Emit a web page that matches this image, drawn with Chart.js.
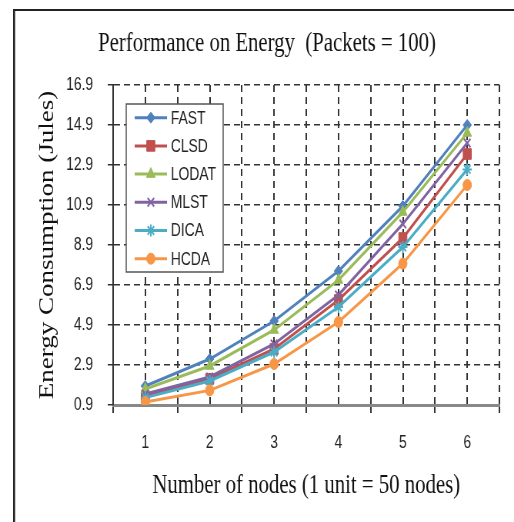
<!DOCTYPE html>
<html>
<head>
<meta charset="utf-8">
<title>Performance on Energy</title>
<script src="https://cdn.jsdelivr.net/npm/chart.js@4.4.1/dist/chart.umd.min.js"></script>
<style>
    html, body { margin: 0; padding: 0; background: #fff; overflow: hidden; }
    /* the original figure is squeezed horizontally, so draw wide and squeeze */
    #energyChart { display: block; transform: scaleX(0.7695); transform-origin: 0 0; }
</style>
</head>
<body>
<canvas id="energyChart" width="668" height="522"></canvas>
<script>
// Data
const nodeUnits = [1, 2, 3, 4, 5, 6];
const fastValues  = [1.85, 3.2, 5.1, 7.6, 10.85, 14.9];
const clsdValues  = [1.35, 2.2, 3.7, 6.15, 9.25, 13.45];
const lodatValues = [1.7, 2.85, 4.65, 7.15, 10.55, 14.5];
const mlstValues  = [1.45, 2.3, 3.95, 6.4, 9.95, 14.0];
const dicaValues  = [1.27, 2.1, 3.55, 5.8, 8.8, 12.68];
const hcdaValues  = [1.05, 1.63, 2.95, 5.05, 7.97, 11.9];

const yMin = 0.9;
const yMax = 16.9;
const yStep = 2;

const narrowFont = '"Liberation Sans Narrow", "Arial Narrow", "Liberation Sans", sans-serif';
const serifFont = '"Liberation Serif", "Times New Roman", serif';

function makeSeries(label, values, color, pointStyle, radius, order) {
    return {
        label: label,
        data: nodeUnits.map(function(n, i) { return { x: n, y: values[i] }; }),
        borderColor: color,
        backgroundColor: color,
        pointBackgroundColor: color,
        pointBorderColor: color,
        pointStyle: pointStyle,
        pointRadius: radius,
        pointBorderWidth: (pointStyle === 'crossRot' || pointStyle === 'star') ? 2 : 1,
        borderWidth: 3,
        tension: 0,
        order: order
    };
}

// Title, outer frame and the legend box inside the plot
const figureDecor = {
    id: 'figureDecor',
    beforeDraw: function(chart) {
        const ctx = chart.ctx;
        ctx.save();
        ctx.fillStyle = '#222';
        ctx.fillRect(17, 9, 2.6, chart.height);
        ctx.fillRect(17, 9, chart.width, 2);
        ctx.font = '27px ' + serifFont;
        ctx.fillStyle = '#111';
        ctx.textAlign = 'center';
        ctx.textBaseline = 'alphabetic';
        ctx.fillText('Performance on Energy  (Packets = 100)', 347, 51);
        ctx.restore();
    },
    afterDraw: function(chart) {
        const ctx = chart.ctx;
        const boxLeft = 164, boxTop = 104, boxW = 126, boxH = 168;
        ctx.save();
        ctx.fillStyle = '#fff';
        ctx.fillRect(boxLeft, boxTop, boxW, boxH);
        ctx.strokeStyle = '#555';
        ctx.lineWidth = 1.5;
        ctx.strokeRect(boxLeft, boxTop, boxW, boxH);

        chart.data.datasets.forEach(function(ds, i) {
            const y = 117.7 + i * 28.2;
            ctx.strokeStyle = ds.borderColor;
            ctx.lineWidth = 3;
            ctx.beginPath();
            ctx.moveTo(175, y);
            ctx.lineTo(217, y);
            ctx.stroke();

            ctx.fillStyle = ds.pointBackgroundColor;
            ctx.strokeStyle = ds.pointBorderColor;
            ctx.lineWidth = ds.pointBorderWidth;
            Chart.helpers.drawPoint(ctx, {
                pointStyle: ds.pointStyle,
                radius: ds.pointRadius,
                rotation: 0,
                borderWidth: ds.pointBorderWidth
            }, 196, y);

            ctx.fillStyle = '#222';
            ctx.font = '18px ' + narrowFont;
            ctx.textAlign = 'left';
            ctx.textBaseline = 'middle';
            ctx.fillText(ds.label, 222, y + 1);
        });
        ctx.restore();
    }
};

const energyCtx = document.getElementById('energyChart');
energyCtx.chart = new Chart(energyCtx.getContext('2d'), {
    type: 'line',
    data: {
        datasets: [
            makeSeries('FAST', fastValues, '#4f81bd', 'rectRot', 5.5, 6),
            makeSeries('CLSD', clsdValues, '#c0504d', 'rect', 7.5, 5),
            makeSeries('LODAT', lodatValues, '#9bbb59', 'triangle', 6.5, 4),
            makeSeries('MLST', mlstValues, '#8064a2', 'crossRot', 6, 3),
            makeSeries('DICA', dicaValues, '#4bacc6', 'star', 6, 2),
            makeSeries('HCDA', hcdaValues, '#f79646', 'circle', 5.5, 1)
        ]
    },
    options: {
        responsive: false,
        animation: false,
        devicePixelRatio: 1,
        layout: {
            padding: { left: 0, right: 15, top: 85, bottom: 0 }
        },
        plugins: {
            legend: { display: false },
            tooltip: { enabled: false },
            title: { display: false }
        },
        scales: {
            x: {
                type: 'linear',
                min: 0.5,
                max: 6.5,
                ticks: {
                    stepSize: 0.5,
                    autoSkip: false,
                    maxRotation: 0,
                    padding: 19,
                    color: '#222',
                    font: { family: narrowFont, size: 18 },
                    callback: function(value) {
                        return Number.isInteger(value) ? String(value) : '';
                    }
                },
                grid: {
                    color: '#333',
                    lineWidth: 2,
                    tickLength: 8,
                    tickWidth: 2,
                    tickColor: function(ctx) {
                        return ctx.tick && Number.isInteger(ctx.tick.value) ? 'transparent' : '#333';
                    }
                },
                border: { color: '#888', width: 3, dash: [7, 5] },
                title: {
                    display: true,
                    text: 'Number of nodes (1 unit = 50 nodes)',
                    color: '#111',
                    font: { family: serifFont, size: 27 },
                    padding: { top: 0, bottom: 20 }
                },
                afterFit: function(scale) { scale.height = 117; }
            },
            y: {
                min: yMin,
                max: yMax,
                ticks: {
                    stepSize: yStep,
                    padding: 19,
                    color: '#222',
                    font: { family: narrowFont, size: 18 },
                    callback: function(value) { return value.toFixed(1); }
                },
                grid: {
                    color: '#333',
                    lineWidth: 1.5,
                    tickLength: 7,
                    tickWidth: 1.5,
                    tickColor: '#333'
                },
                border: { color: '#333', width: 2, dash: [8, 5] },
                title: {
                    display: true,
                    text: 'Energy Consumption (Jules)',
                    color: '#111',
                    font: { family: serifFont, size: 27 },
                    padding: { top: 46, bottom: 0 }
                },
                afterFit: function(scale) { scale.width = 147; }
            }
        }
    },
    plugins: [figureDecor]
});
</script>
</body>
</html>
